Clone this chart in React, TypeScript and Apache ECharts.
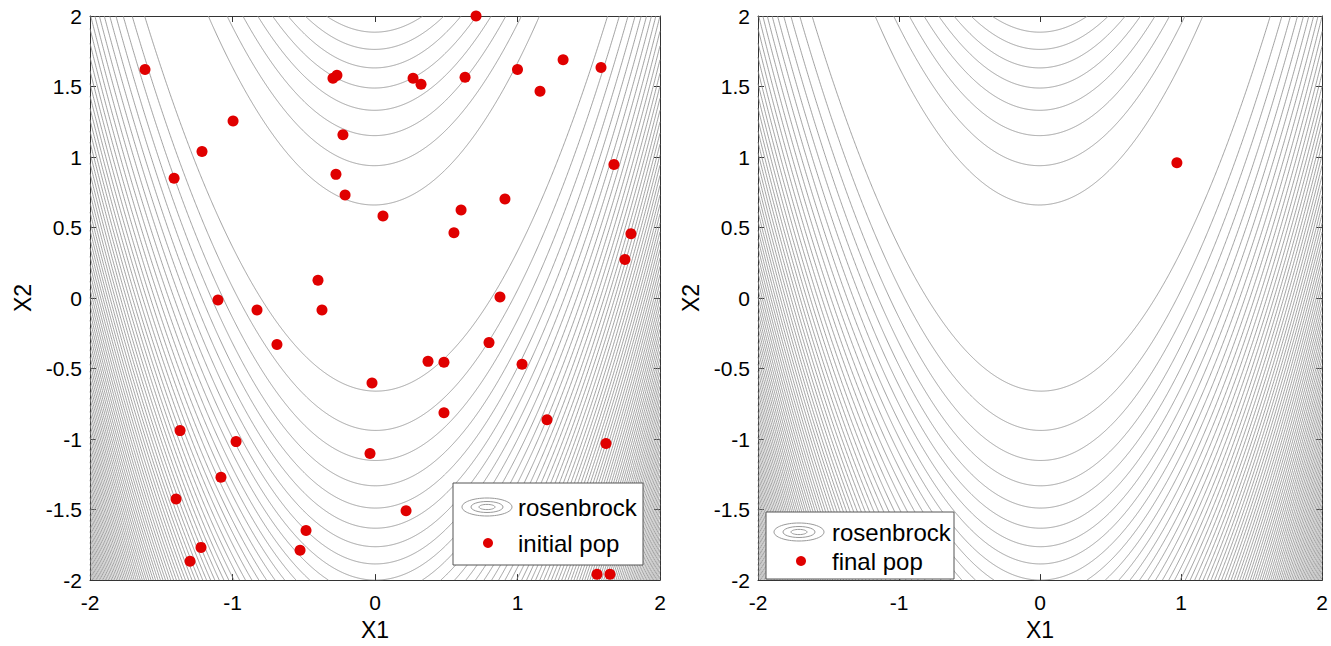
import React, { useEffect, useRef } from "react";
import * as echarts from "echarts";

// ---- Data ----
const AXIS_MIN = -2;
const AXIS_MAX = 2;
const X_INTERVAL = 1;
const Y_INTERVAL = 0.5;

// Rosenbrock contour: 80 evenly spaced levels between z-min and z-max of the plotted box
const Z_MIN = 0;
const Z_MAX = 3609;
const N_LEVELS = 80;
const CONTOUR_LEVELS: number[] = Array.from(
  { length: N_LEVELS },
  (_, k) => Z_MIN + ((k + 1) * (Z_MAX - Z_MIN)) / (N_LEVELS + 1)
);

const INITIAL_X1 = [
  0.709, -1.614, -0.295, -0.267, 0.267, 0.323, 0.632, 1.0, 1.32, 1.158, 1.586,
  -0.996, -0.225, -1.214, -1.41, -0.274, -0.21, 1.677, 0.056, 0.604, 0.912,
  0.554, 1.796, 1.754, -0.4, -0.372, -1.102, -0.828, -0.688, 0.877, 0.8, 0.372,
  0.484, 1.032, -0.021, 0.484, 1.207, -1.368, -0.975, -0.035, 1.621, -1.081,
  -1.396, 0.218, -0.484, -0.526, -1.221, -1.298, 1.558, 1.649,
];
const INITIAL_X2 = [
  2.0, 1.621, 1.558, 1.579, 1.558, 1.516, 1.565, 1.62, 1.69, 1.467, 1.635,
  1.256, 1.158, 1.039, 0.849, 0.877, 0.73, 0.947, 0.582, 0.625, 0.702,
  0.463, 0.456, 0.274, 0.126, -0.084, -0.014, -0.084, -0.33, 0.007, -0.316, -0.449,
  -0.456, -0.47, -0.603, -0.814, -0.863, -0.94, -1.018, -1.102, -1.032, -1.27,
  -1.425, -1.509, -1.649, -1.789, -1.768, -1.867, -1.958, -1.958,
];
const FINAL_X1 = [0.97];
const FINAL_X2 = [0.96];

const FONT = "'Liberation Sans', Arial, Helvetica, sans-serif";

function rosenbrockContour(c: number): number[][][] {
  const paths: number[][][] = [];
  const N = 1200;
  const inBox = (y: number) => y >= AXIS_MIN && y <= AXIS_MAX;
  for (const sign of [1, -1]) {
    let seg: number[][] = [];
    let prev: number[] | null = null;
    for (let i = 0; i <= N; i++) {
      const x = AXIS_MIN + ((AXIS_MAX - AXIS_MIN) * i) / N;
      const r = c - (1 - x) * (1 - x);
      if (r < 0) {
        if (seg.length > 1) paths.push(seg);
        seg = [];
        prev = null;
        continue;
      }
      const y = x * x + sign * Math.sqrt(r / 100);
      const inside = inBox(y);
      if (prev) {
        const pIn = inBox(prev[1]);
        if (inside && !pIn) {
          const b = prev[1] > AXIS_MAX ? AXIS_MAX : AXIS_MIN;
          const t = (b - prev[1]) / (y - prev[1]);
          seg = [[prev[0] + t * (x - prev[0]), b]];
        } else if (!inside && pIn) {
          const b = y > AXIS_MAX ? AXIS_MAX : AXIS_MIN;
          const t = (b - prev[1]) / (y - prev[1]);
          seg.push([prev[0] + t * (x - prev[0]), b]);
          if (seg.length > 1) paths.push(seg);
          seg = [];
        }
      }
      if (inside) seg.push([x, y]);
      prev = [x, y];
    }
    if (seg.length > 1) paths.push(seg);
  }
  return paths;
}

function buildContourData() {
  const data: { coords: number[][] }[] = [];
  for (const c of CONTOUR_LEVELS) {
    for (const p of rosenbrockContour(c)) data.push({ coords: p });
  }
  return data;
}

const TICK = { inside: true, length: 6, lineStyle: { color: "#333", width: 1 } };
const LINE = { show: true, onZero: false, lineStyle: { color: "#333", width: 1 } };

function xAxes(gridIndex: number) {
  return [
    {
      gridIndex,
      type: "value",
      min: AXIS_MIN,
      max: AXIS_MAX,
      interval: X_INTERVAL,
      position: "bottom",
      axisLine: LINE,
      axisTick: TICK,
      splitLine: { show: false },
      axisLabel: { fontSize: 21, color: "#000", margin: 12, fontFamily: FONT },
      name: "X1",
      nameLocation: "middle",
      nameGap: 35,
      nameTextStyle: { fontSize: 23, color: "#000", fontFamily: FONT },
    },
    {
      gridIndex,
      type: "value",
      min: AXIS_MIN,
      max: AXIS_MAX,
      interval: X_INTERVAL,
      position: "top",
      axisLine: LINE,
      axisTick: TICK,
      splitLine: { show: false },
      axisLabel: { show: false },
    },
  ];
}

function yAxes(gridIndex: number) {
  return [
    {
      gridIndex,
      type: "value",
      min: AXIS_MIN,
      max: AXIS_MAX,
      interval: Y_INTERVAL,
      position: "left",
      axisLine: LINE,
      axisTick: TICK,
      splitLine: { show: false },
      axisLabel: { fontSize: 21, color: "#000", margin: 8, fontFamily: FONT },
      name: "X2",
      nameLocation: "middle",
      nameGap: 56,
      nameRotate: 90,
      nameTextStyle: { fontSize: 23, color: "#000", fontFamily: FONT },
    },
    {
      gridIndex,
      type: "value",
      min: AXIS_MIN,
      max: AXIS_MAX,
      interval: Y_INTERVAL,
      position: "right",
      axisLine: LINE,
      axisTick: TICK,
      splitLine: { show: false },
      axisLabel: { show: false },
    },
  ];
}

function legendGraphic(
  bx: number,
  by: number,
  bw: number,
  bh: number,
  icx: number,
  icy: number,
  dotx: number,
  doty: number,
  textX: number,
  label: string
) {
  const els: any[] = [
    {
      type: "rect",
      shape: { x: bx, y: by, width: bw, height: bh },
      style: { fill: "#fff", stroke: "#555", lineWidth: 1 },
      z: 100,
    },
  ];
  [
    [25, 9],
    [16, 5.5],
    [8, 2.6],
  ].forEach(([rx, ry]) =>
    els.push({
      type: "ellipse",
      shape: { cx: icx, cy: icy, rx, ry },
      style: { fill: "none", stroke: "#999", lineWidth: 1 },
      z: 101,
    })
  );
  els.push({
    type: "circle",
    shape: { cx: dotx, cy: doty, r: 5 },
    style: { fill: "#e00000" },
    z: 101,
  });
  els.push({
    type: "text",
    x: textX,
    y: icy,
    style: {
      text: "rosenbrock",
      fontSize: 24,
      fontFamily: FONT,
      fill: "#000",
      align: "left",
      verticalAlign: "middle",
    },
    z: 101,
  });
  els.push({
    type: "text",
    x: textX,
    y: doty,
    style: {
      text: label,
      fontSize: 24,
      fontFamily: FONT,
      fill: "#000",
      align: "left",
      verticalAlign: "middle",
    },
    z: 101,
  });
  return els;
}

export default function App() {
  const ref = useRef<HTMLDivElement>(null);
  useEffect(() => {
    if (!ref.current) return;
    const chart = echarts.init(ref.current, undefined, { renderer: "svg" });
    const contour = buildContourData();
    const lineStyle = { color: "#8a8a8a", width: 0.8, opacity: 1 };
    const option: any = {
      animation: false,
      backgroundColor: "#fff",
      grid: [
        { left: 90, top: 16, width: 570, height: 570, show: false },
        { left: 758, top: 16, width: 572, height: 570, show: false },
      ],
      xAxis: [...xAxes(0), ...xAxes(1)],
      yAxis: [...yAxes(0), ...yAxes(1)],
      series: [
        {
          type: "lines",
          name: "rosenbrock",
          coordinateSystem: "cartesian2d",
          xAxisIndex: 0,
          yAxisIndex: 0,
          polyline: true,
          silent: true,
          lineStyle,
          data: contour,
          z: 2,
        },
        {
          type: "scatter",
          name: "initial pop",
          xAxisIndex: 0,
          yAxisIndex: 0,
          symbolSize: 11,
          itemStyle: { color: "#e00000", opacity: 1 },
          data: INITIAL_X1.map((x, i) => [x, INITIAL_X2[i]]),
          z: 5,
        },
        {
          type: "lines",
          name: "rosenbrock",
          coordinateSystem: "cartesian2d",
          xAxisIndex: 2,
          yAxisIndex: 2,
          polyline: true,
          silent: true,
          lineStyle,
          data: contour,
          z: 2,
        },
        {
          type: "scatter",
          name: "final pop",
          xAxisIndex: 2,
          yAxisIndex: 2,
          symbolSize: 11,
          itemStyle: { color: "#e00000", opacity: 1 },
          data: FINAL_X1.map((x, i) => [x, FINAL_X2[i]]),
          z: 5,
        },
      ],
      graphic: [
        ...legendGraphic(453, 483, 190, 82, 487, 507, 488, 543, 518, "initial pop"),
        ...legendGraphic(766, 512, 188, 67, 799, 532, 801, 561, 832, "final pop"),
      ],
    };
    chart.setOption(option);
    return () => chart.dispose();
  }, []);
  return (
    <div
      ref={ref}
      style={{ position: "fixed", left: 0, top: 0, width: 1331, height: 646 }}
    />
  );
}
